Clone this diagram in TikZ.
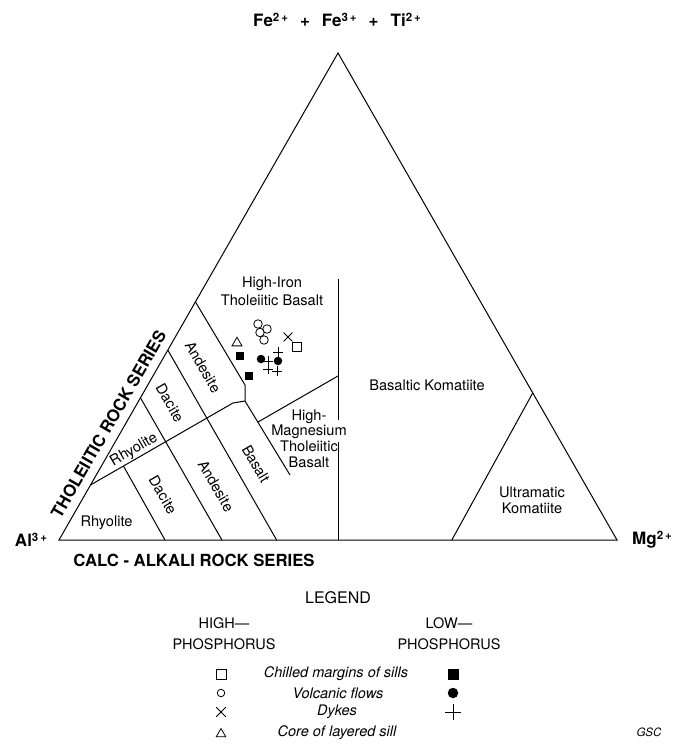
\documentclass[tikz,border=0pt]{standalone}
\usepackage{fontspec}
\setmainfont{TeX Gyre Heros}
\usepackage{tikz}
\usetikzlibrary{calc,shapes.misc,shapes.geometric}

\newcommand{\chg}[1]{\raisebox{5pt}{\fontsize{11.5}{11.5}\selectfont #1\,+}}

\begin{document}
\begin{tikzpicture}[
    x=1pt, y=-1pt,
    font=\fontsize{14.6}{15.6}\selectfont,
    line/.style={line width=1pt},
    field/.style={align=center, inner sep=0pt},
    series/.style={inner sep=0pt, font=\fontsize{16.7}{18}\selectfont\bfseries},
    corner/.style={inner sep=0pt, font=\fontsize{17}{18}\selectfont\bfseries},
    keytext/.style={inner sep=0pt, font=\fontsize{14.5}{16}\selectfont\itshape},
    opensq/.style={draw, rectangle, line width=0.8pt, minimum size=#1, inner sep=0pt},
    fillsq/.style={fill=black, rectangle, minimum size=#1, inner sep=0pt},
    opencirc/.style={draw, circle, line width=0.8pt, minimum size=#1, inner sep=0pt},
    fillcirc/.style={fill=black, circle, minimum size=#1, inner sep=0pt},
    xmark/.style={draw, cross out, line width=0.8pt, minimum size=#1, inner sep=0pt},
    plusmark/.style={draw, cross out, rotate=45, line width=0.8pt, minimum size=#1, inner sep=0pt},
    trimark/.style={draw, regular polygon, regular polygon sides=3, line width=0.8pt, minimum size=#1, inner sep=0pt}
]
\useasboundingbox (0,0) rectangle (689,746);

% Corners of the ternary diagram
\coordinate (al) at (59,540);
\coordinate (mg) at (617,540);
\coordinate (fe) at (338,53);

\draw[line] (al) -- (mg) -- (fe) -- cycle;

% Points on the edges
\coordinate (l1) at ($(al)!0.113!(fe)$);
\coordinate (l2) at ($(al)!0.292!(fe)$);
\coordinate (l3) at ($(al)!0.390!(fe)$);
\coordinate (l4) at ($(al)!0.489!(fe)$);
\coordinate (b1) at (165,540);
\coordinate (b2) at ($(al)!0.292!(mg)$);
\coordinate (b3) at ($(al)!0.390!(mg)$);
\coordinate (b4) at ($(al)!0.5!(mg)$);
\coordinate (b5) at ($(al)!0.704!(mg)$);
\coordinate (r1) at ($(mg)!0.302!(fe)$);

% Inner corners
\coordinate (jn) at (245,401);
\coordinate (jt) at (245,385);
\coordinate (jl) at (233,403);
\coordinate (rh) at ($(l1)!0.231!(jl)$);
\coordinate (bs) at (290,475);
\coordinate (vt) at (338,279);
\coordinate (g1) at (338,420);
\coordinate (g2) at (338,442);
\coordinate (hm1) at (338,376);
\coordinate (hm2) at (258,422);

% Tholeiitic and calc-alkali fields
\draw[line] (l4) -- (jt) -- (jn) -- (bs);
\draw[line] (jn) -- (jl) -- (l1);
\draw[line] (l3) -- (b3);
\draw[line] (l2) -- (b2);
\draw[line] (rh) -- (b1);

% Komatiite fields
\draw[line] (vt) -- (g1);
\draw[line] (g2) -- (b4);
\draw[line] (hm1) -- (hm2);
\draw[line] (b5) -- (r1);

% Field names
\node[field] (hifeb) at (272,291) {High-Iron\\[2pt]Tholeiitic Basalt};
\node[field] (himgb) at (309,438.5) {High-\\Magnesium\\Tholeiitic\\Basalt};
\node[field] (bkom) at (427,385) {Basaltic Komatiite};
\node[field] (ukom) at (532,500) {Ultramatic\\Komatiite};
\node[field, rotate=-60] (and1) at (203,367) {Andesite};
\node[field, rotate=-60] (dac1) at (170,403) {Dacite};
\node[field, rotate=30] (rhy1) at (134,450) {Rhyolite};
\node[field] (rhy2) at (106.5,523) {Rhyolite};
\node[field, rotate=-60] (dac2) at (163,495) {Dacite};
\node[field, rotate=-60] (and2) at (216,486) {Andesite};
\node[field, rotate=-60] (bas) at (256,464) {Basalt};

% Series and corner labels
\node[series, rotate=60] (thol) at (108.5,424) {THOLEIITIC ROCK SERIES};
\node[series] (calc) at (194,560) {CALC - ALKALI ROCK SERIES};
\node[corner] (allab) at (31,540) {Al\chg{3}};
\node[corner] (mglab) at (652,540) {Mg\chg{2}};
\node[corner] (felab) at (337,20) {Fe\chg{2}\hspace{12pt}+\hspace{12pt}Fe\chg{3}\hspace{12pt}+\hspace{12pt}Ti\chg{2}};

% Data points
\node[trimark=11.5pt] (t1) at (237,343) {};
\node[fillsq=8pt] (s1) at (240,356) {};
\node[fillsq=8pt] (s2) at (249,376) {};
\node[opencirc=8.5pt] (c1) at (258,324) {};
\node[opencirc=8.5pt] (c2) at (267,329) {};
\node[opencirc=8.5pt] (c3) at (260,332.5) {};
\node[opencirc=8.5pt] (c4) at (264,340) {};
\node[xmark=8pt] (x1) at (288,337) {};
\node[opensq=8.5pt] (q1) at (297,347) {};
\node[fillcirc=8.5pt] (f1) at (261,359) {};
\node[fillcirc=8.5pt] (f2) at (278,361) {};
\node[plusmark=6pt] (p1) at (278,352) {};
\node[plusmark=6pt] (p2) at (268,361) {};
\node[plusmark=6pt] (p3) at (268,369) {};
\node[plusmark=6pt] (p4) at (277,371) {};

% Legend
\node[inner sep=0pt, font=\fontsize{16}{18}\selectfont] (legend) at (338,598) {LEGEND};
\node[field, font=\fontsize{14.5}{21}\selectfont] (highp) at (224,633.5) {HIGH---\\PHOSPHORUS};
\node[field, font=\fontsize{14.5}{21}\selectfont] (lowp) at (449,633.5) {LOW---\\PHOSPHORUS};

\node[keytext] (k1) at (336,674) {Chilled margins of sills};
\node[keytext] (k2) at (338,693) {Volcanic flows};
\node[keytext] (k3) at (337,712) {Dykes};
\node[keytext] (k4) at (337,733) {Core of layered sill};

\node[opensq=10pt] (hs) at (221,674) {};
\node[opencirc=7.5pt] (hc) at (221,693) {};
\node[xmark=9pt] (hx) at (221,712) {};
\node[trimark=11pt] (ht) at (221,734) {};
\node[fillsq=11pt] (ls) at (453,674) {};
\node[fillcirc=10.5pt] (lc) at (453,693) {};
\node[plusmark=10pt] (lp) at (453,712) {};

\node[inner sep=0pt, font=\fontsize{11.5}{12}\selectfont\itshape] (gsc) at (649,732) {GSC};

\end{tikzpicture}
\end{document}
